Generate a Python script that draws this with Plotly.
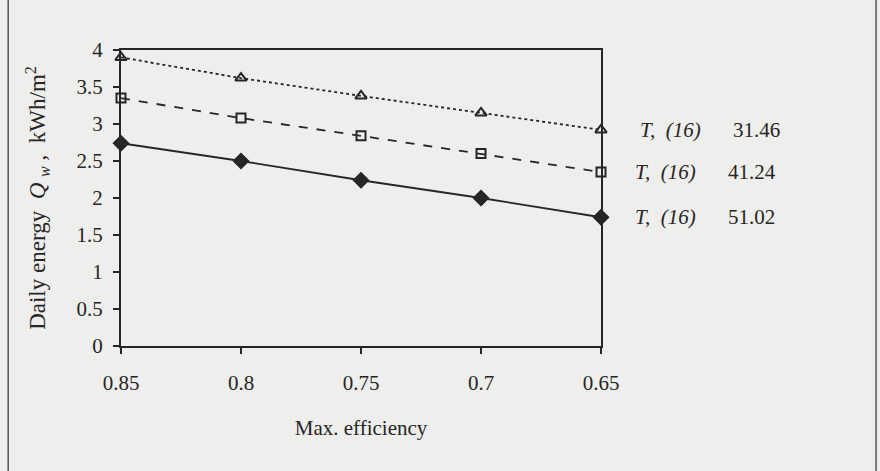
import plotly.graph_objects as go

efficiency = [0.85, 0.80, 0.75, 0.70, 0.65]
q_3146 = [3.90, 3.62, 3.38, 3.15, 2.92]
q_4124 = [3.35, 3.08, 2.84, 2.60, 2.35]
q_5102 = [2.74, 2.50, 2.24, 2.00, 1.74]
label_values = ["31.46", "41.24", "51.02"]
x_ticks = [0.85, 0.80, 0.75, 0.70, 0.65]
x_tick_text = ["0.85", "0.8", "0.75", "0.7", "0.65"]
y_ticks = [0, 0.5, 1, 1.5, 2, 2.5, 3, 3.5, 4]
y_tick_text = ["0", "0.5", "1", "1.5", "2", "2.5", "3", "3.5", "4"]

ink = "#262626"
paper = "#eeeeec"
font = "Liberation Serif"

fig = go.Figure()
series = [
    (q_3146, "dot", "triangle-up-open", 10),
    (q_4124, "dash", "square-open", 9),
    (q_5102, "solid", "diamond", 11),
]
for vals, dash, sym, size in series:
    fig.add_trace(go.Scatter(
        x=efficiency, y=vals, mode="lines+markers",
        line=dict(color=ink, width=1.8, dash=dash),
        marker=dict(symbol=sym, size=size, color=ink,
                    line=dict(color=ink, width=2)),
        cliponaxis=False, showlegend=False,
    ))

for vals, lab, dx in zip([q_3146, q_4124, q_5102], label_values, [0.0, -0.01, -0.01]):
    fig.add_annotation(x=1.077 + dx, xref="paper", y=vals[-1], yref="y",
                       text="<i>T,  (16)</i>", showarrow=False,
                       xanchor="left", font=dict(family=font, size=21, color=ink))
    fig.add_annotation(x=1.27 + dx, xref="paper", y=vals[-1], yref="y",
                       text=lab, showarrow=False,
                       xanchor="left", font=dict(family=font, size=21, color=ink))

# page border lines of the scanned page
for px in [-0.235, 1.573]:
    fig.add_shape(type="line", xref="paper", yref="paper",
                  x0=px, x1=px, y0=-0.45, y1=1.2,
                  line=dict(color="#555555", width=1.5))

fig.update_xaxes(range=[0.85, 0.65], tickvals=x_ticks, ticktext=x_tick_text,
                 showgrid=False, zeroline=False, showline=True, mirror=True,
                 linecolor=ink, linewidth=2.2, ticks="outside", ticklen=6,
                 tickwidth=1.5, tickcolor=ink, ticklabelstandoff=11,
                 tickfont=dict(family=font, size=21, color=ink),
                 title=dict(text="Max. efficiency", standoff=26,
                            font=dict(family=font, size=21, color=ink)))
fig.update_yaxes(range=[0, 4], tickvals=y_ticks, ticktext=y_tick_text,
                 showgrid=False, zeroline=False, showline=True, mirror=True,
                 linecolor=ink, linewidth=2.2, ticks="outside", ticklen=6,
                 tickwidth=1.5, tickcolor=ink, ticklabelstandoff=6,
                 tickfont=dict(family=font, size=21, color=ink),
                 title=dict(text="Daily energy  <i>Q</i> <sub><i>w</i></sub> ,  kWh/m<sup>2</sup>",
                            standoff=24,
                            font=dict(family=font, size=23, color=ink)))

fig.update_layout(width=880, height=471,
                  margin=dict(l=121, r=279, t=50, b=125),
                  paper_bgcolor=paper, plot_bgcolor=paper)

fig.write_html("out.html")
